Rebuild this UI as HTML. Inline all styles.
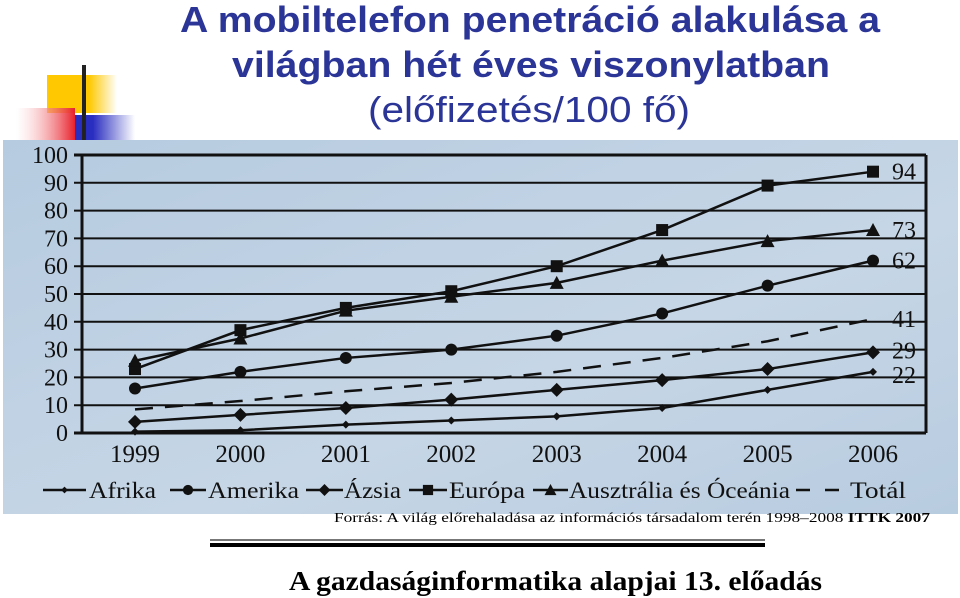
<!DOCTYPE html>
<html><head><meta charset="utf-8"><style>
body{margin:0;width:960px;height:598px;overflow:hidden;background:#fff}
svg{display:block}
</style></head><body>
<svg id="s" width="960" height="598" xmlns="http://www.w3.org/2000/svg">
<defs>
<linearGradient id="rg" x1="0" x2="1"><stop offset="0" stop-color="#fff" stop-opacity="0.3"/><stop offset="1" stop-color="#e8202a"/></linearGradient>
<linearGradient id="yg" x1="0" x2="1"><stop offset="0.6" stop-color="#ffc800"/><stop offset="1" stop-color="#fff"/></linearGradient>
<linearGradient id="bg" x1="0" x2="1"><stop offset="0.3" stop-color="#2a2ec0"/><stop offset="1" stop-color="#fff"/></linearGradient>
<linearGradient id="cb" x1="0" y1="0" x2="1" y2="1"><stop offset="0" stop-color="#b6cbe0"/><stop offset="0.6" stop-color="#c6d6e6"/><stop offset="1" stop-color="#b8cce0"/></linearGradient>
</defs>
<g>
<rect x="47" y="75" width="70" height="38" fill="url(#yg)"/>
<rect x="75" y="115" width="60" height="26" fill="url(#bg)"/>
<rect x="16" y="108" width="59" height="33" fill="url(#rg)"/>
<rect x="82" y="65" width="4" height="76" fill="#222"/>
</g>
<g font-family="Liberation Sans, sans-serif" font-weight="bold" font-size="36" fill="#2b3597">
<text x="180" y="32" textLength="700" lengthAdjust="spacingAndGlyphs">A mobiltelefon penetráció alakulása a</text>
<text x="232" y="77" textLength="598" lengthAdjust="spacingAndGlyphs">világban hét éves viszonylatban</text>
<text x="368" y="122" font-weight="normal" textLength="322" lengthAdjust="spacingAndGlyphs">(előfizetés/100 fő)</text>
</g>
<rect x="3" y="140" width="955" height="374" fill="url(#cb)"/>
<g id="chart"></g>
<text x="334" y="522" font-family="Liberation Serif, serif" font-size="14" textLength="596" lengthAdjust="spacingAndGlyphs">Forrás: A világ előrehaladása az információs társadalom terén 1998–2008 <tspan font-weight="bold">ITTK 2007</tspan></text>
<rect x="210" y="539" width="555" height="2" fill="#777"/>
<rect x="210" y="543" width="555" height="4" fill="#000"/>
<text x="289" y="590" font-family="Liberation Serif, serif" font-weight="bold" font-size="27" textLength="533" lengthAdjust="spacingAndGlyphs">A gazdaságinformatika alapjai 13. előadás</text>
</svg>
<script>
const years=["1999","2000","2001","2002","2003","2004","2005","2006"];
const yTicks=[0,10,20,30,40,50,60,70,80,90,100];
const afrika=[0.5,1,3,4.5,6,9,15.5,22];
const amerika=[16,22,27,30,35,43,53,62];
const azsia=[4,6.5,9,12,15.5,19,23,29];
const europa=[23,37,45,51,60,73,89,94];
const ausztralia=[26,34,44,49,54,62,69,73];
const total=[8.5,11.5,15,18,22,27,33,41];
const endLabels=["22","62","29","94","73","41"];
const NS="http://www.w3.org/2000/svg";
const g=document.getElementById('chart');
const L=82,R=926,T=155,B=433;
const x=i=>135+i*(873-135)/(years.length-1);
const y=v=>B-(v/100)*(B-T);
function mk(t,a,p){const e=document.createElementNS(NS,t);for(const k in a)e.setAttribute(k,a[k]);(p||g).appendChild(e);return e;}
yTicks.forEach(v=>{
 const l=mk('line',{x1:L-8,x2:R,y1:y(v),y2:y(v),stroke:'#111','stroke-width':v===0||v===100?3:2});
 
 
 const t=mk('text',{x:68,y:y(v)+8,'text-anchor':'end','font-family':'Liberation Serif, serif','font-size':24,fill:'#111'});
 t.textContent=v;
 
 
});
const ax=mk('line',{x1:L,x2:L,y1:T,y2:B,stroke:'#111','stroke-width':3});


const rx=mk('line',{x1:R,x2:R,y1:T,y2:B,stroke:'#111','stroke-width':3});


years.forEach((yr,i)=>{
 const t=mk('text',{x:x(i),y:462,'text-anchor':'middle','font-family':'Liberation Serif, serif','font-size':25,fill:'#111',textLength:50,lengthAdjust:'spacingAndGlyphs'});
 t.textContent=yr;
 
 
});
function marker(type,cx,cy,p,s){
 s=s||1;let e;
 if(type==='square')e=mk('rect',{x:cx-6*s,y:cy-6*s,width:12*s,height:12*s,fill:'#111'},p);
 else if(type==='circle')e=mk('circle',{cx:cx,cy:cy,r:6*s,fill:'#111'},p);
 else if(type==='diamond')e=mk('polygon',{points:`${cx},${cy-7*s} ${cx+7*s},${cy} ${cx},${cy+7*s} ${cx-7*s},${cy}`,fill:'#111'},p);
 else if(type==='triangle')e=mk('polygon',{points:`${cx},${cy-7*s} ${cx+7*s},${cy+6*s} ${cx-7*s},${cy+6*s}`,fill:'#111'},p);
 else if(type==='small')e=mk('polygon',{points:`${cx},${cy-4*s} ${cx+4*s},${cy} ${cx},${cy+4*s} ${cx-4*s},${cy}`,fill:'#111'},p);
 return e;
}
const series=[
 {name:'afrika',data:afrika,m:'small'},
 {name:'amerika',data:amerika,m:'circle'},
 {name:'azsia',data:azsia,m:'diamond'},
 {name:'europa',data:europa,m:'square'},
 {name:'ausztralia',data:ausztralia,m:'triangle'},
 {name:'total',data:total,m:null,dash:true}
];
series.forEach((s,si)=>{
 const grp=mk('g',{});
 
 
 const pts=s.data.map((v,i)=>x(i)+','+y(v)).join(' ');
 const pl=mk('polyline',{points:pts,fill:'none',stroke:'#111','stroke-width':2.5,'stroke-dasharray':s.dash?'18,12':'none'},grp);
 
 
 if(s.m)s.data.forEach((v,i)=>{
  const m=marker(s.m,x(i),y(v),grp);
  
  
 });
 const last=s.data[s.data.length-1];
 let ly=y(last)+8;
 if(s.name==='afrika')ly+=3;
 if(s.name==='azsia')ly-=2;
 const t=mk('text',{x:892,y:ly,'font-family':'Liberation Serif, serif','font-size':24,fill:'#111'},grp);
 t.textContent=endLabels[si];
 
 
});
const legendItems=[
 {label:'Afrika',m:'small',lx:43,le:86,tx:89,w:67},
 {label:'Amerika',m:'circle',lx:170,le:206,tx:208,w:91},
 {label:'Ázsia',m:'diamond',lx:306,le:343,tx:344,w:57},
 {label:'Európa',m:'square',lx:409,le:447,tx:449,w:76},
 {label:'Ausztrália és Óceánia',m:'triangle',lx:533,le:568,tx:569,w:221},
 {label:'Totál',m:null,lx:796,le:839,tx:850,w:56}
];
legendItems.forEach(it=>{
 const grp=mk('g',{});
 
 
 if(it.m){
  mk('line',{x1:it.lx,x2:it.le,y1:490,y2:490,stroke:'#111','stroke-width':2.5},grp);
  marker(it.m,(it.lx+it.le)/2,490,grp,0.85);
 } else {
  mk('line',{x1:it.lx,x2:it.le,y1:490,y2:490,stroke:'#111','stroke-width':2.5,'stroke-dasharray':'14,15'},grp);
 }
 const t=mk('text',{x:it.tx,y:498,'font-family':'Liberation Serif, serif','font-size':23,fill:'#111',textLength:it.w,lengthAdjust:'spacingAndGlyphs'},grp);
 t.textContent=it.label;
});
</script>
</body></html>
